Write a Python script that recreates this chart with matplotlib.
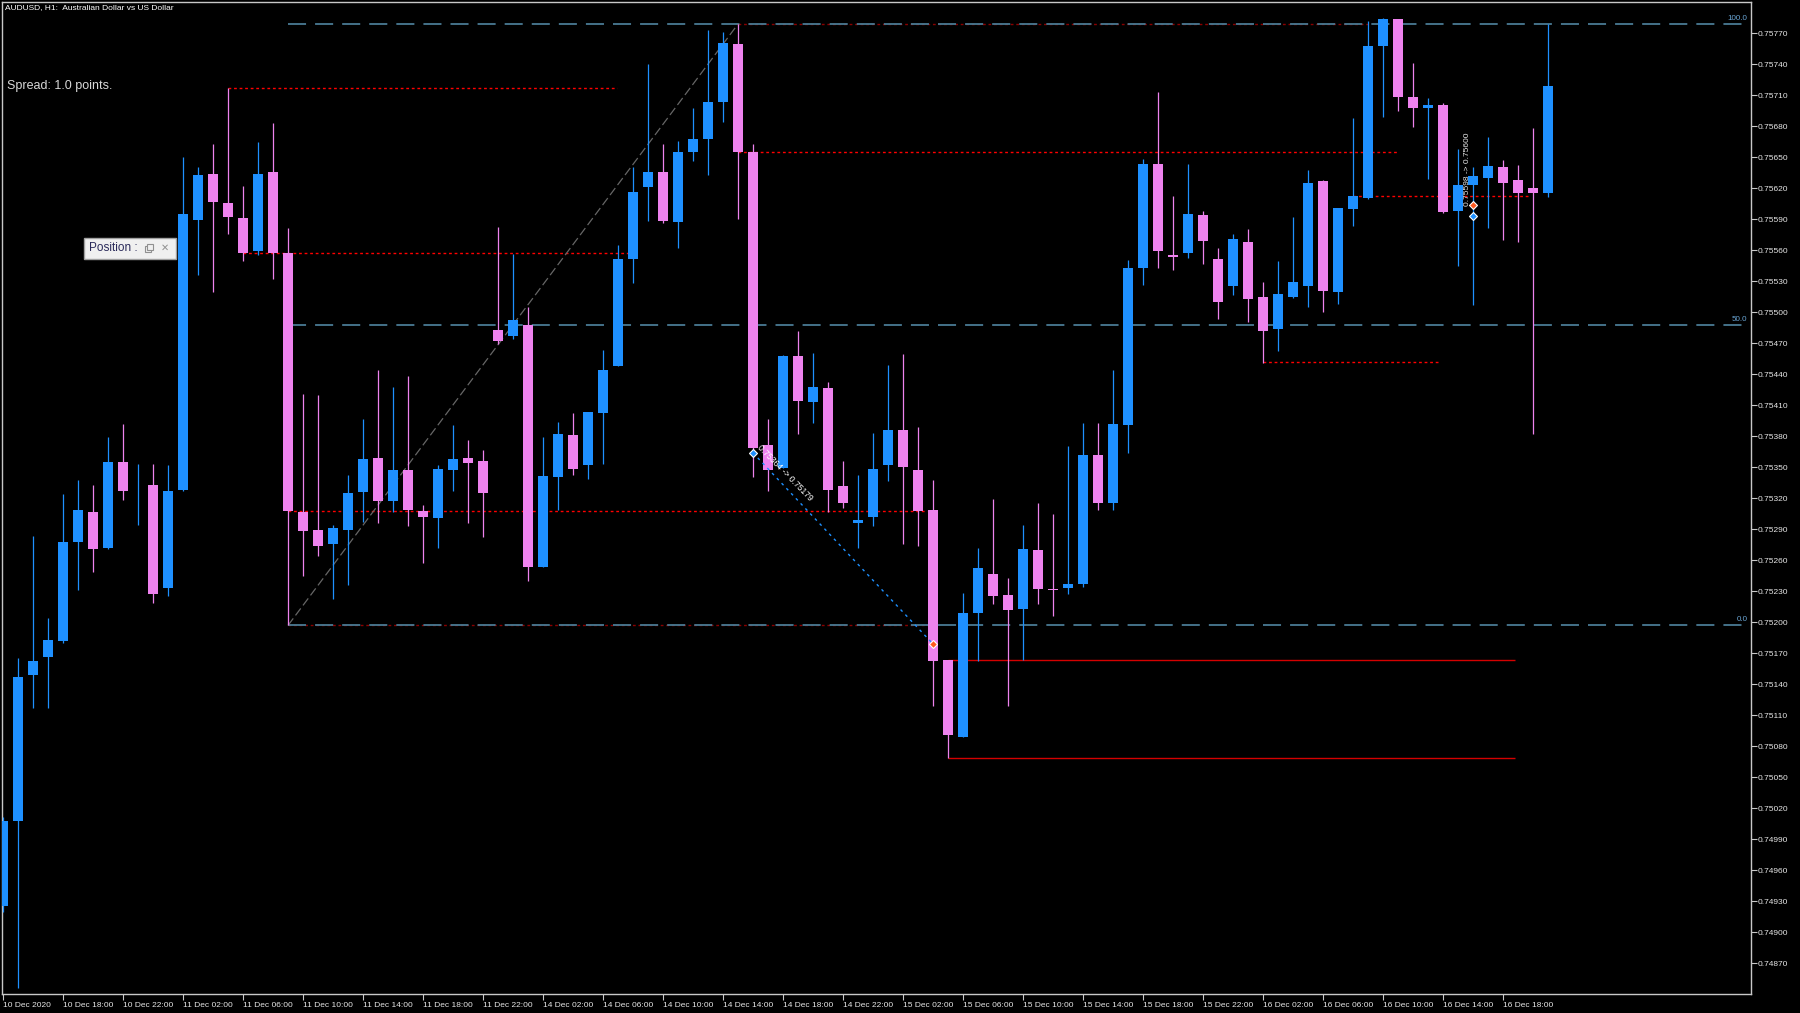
import matplotlib
matplotlib.use("Agg")
import matplotlib.pyplot as plt
from matplotlib.patches import Rectangle
import numpy as np

plt.rcParams["font.family"] = ["Liberation Sans", "DejaVu Sans"]

# AUDUSD H1 candles, one per hour starting 10 Dec 2020 14:00
opens = [0.74925, 0.75008, 0.75149, 0.75166, 0.75182, 0.75278, 0.75307, 0.75272, 0.75355, 0.75317,
         0.75333, 0.75233, 0.75328, 0.75589, 0.75634, 0.75606, 0.75591, 0.75559, 0.75636, 0.75557,
         0.75307, 0.75289, 0.75276, 0.75289, 0.75326, 0.75359, 0.75317, 0.75347, 0.75308, 0.75301,
         0.75347, 0.75359, 0.75356, 0.75483, 0.75477, 0.75488, 0.75254, 0.75341, 0.75381, 0.75352,
         0.75403, 0.75448, 0.75552, 0.75621, 0.75636, 0.75587, 0.75655, 0.75668, 0.75704, 0.75760,
         0.75655, 0.75372, 0.75349, 0.75458, 0.75413, 0.75427, 0.75332, 0.75296, 0.75302, 0.75352,
         0.75386, 0.75347, 0.75309, 0.75164, 0.75089, 0.75209, 0.75247, 0.75226, 0.75213, 0.75270,
         0.75232, 0.75233, 0.75237, 0.75362, 0.75315, 0.75391, 0.75543, 0.75644, 0.75555, 0.75557,
         0.75594, 0.75552, 0.75525, 0.75568, 0.75515, 0.75484, 0.75515, 0.75525, 0.75627, 0.75520,
         0.75600, 0.75611, 0.75758, 0.75784, 0.75708, 0.75698, 0.75701, 0.75598, 0.75623, 0.75630,
         0.75641, 0.75628, 0.75620, 0.75615]
highs = [0.75012, 0.75165, 0.75284, 0.75204, 0.75324, 0.75338, 0.75333, 0.75379, 0.75392, 0.75353,
         0.75353, 0.75352, 0.75650, 0.75641, 0.75663, 0.75717, 0.75622, 0.75665, 0.75683, 0.75582,
         0.75421, 0.75420, 0.75294, 0.75343, 0.75397, 0.75444, 0.75428, 0.75438, 0.75314, 0.75352,
         0.75391, 0.75376, 0.75367, 0.75583, 0.75556, 0.75505, 0.75379, 0.75394, 0.75403, 0.75404,
         0.75464, 0.75565, 0.75641, 0.75740, 0.75663, 0.75666, 0.75698, 0.75773, 0.75771, 0.75779,
         0.75663, 0.75397, 0.75459, 0.75482, 0.75461, 0.75433, 0.75356, 0.75343, 0.75383, 0.75449,
         0.75460, 0.75389, 0.75338, 0.75164, 0.75228, 0.75272, 0.75319, 0.75243, 0.75294, 0.75315,
         0.75305, 0.75371, 0.75393, 0.75393, 0.75444, 0.75551, 0.75648, 0.75713, 0.75613, 0.75644,
         0.75598, 0.75562, 0.75576, 0.75581, 0.75529, 0.75550, 0.75592, 0.75638, 0.75628, 0.75601,
         0.75688, 0.75782, 0.75785, 0.75784, 0.75741, 0.75707, 0.75703, 0.75658, 0.75641, 0.75670,
         0.75647, 0.75643, 0.75678, 0.75779]
lows = [0.74920, 0.74846, 0.75117, 0.75117, 0.75180, 0.75231, 0.75249, 0.75271, 0.75318, 0.75294,
        0.75219, 0.75225, 0.75327, 0.75536, 0.75520, 0.75576, 0.75550, 0.75555, 0.75532, 0.75197,
        0.75245, 0.75264, 0.75223, 0.75236, 0.75297, 0.75296, 0.75307, 0.75293, 0.75257, 0.75272,
        0.75327, 0.75296, 0.75283, 0.75469, 0.75474, 0.75240, 0.75254, 0.75309, 0.75343, 0.75339,
        0.75353, 0.75448, 0.75528, 0.75588, 0.75586, 0.75562, 0.75646, 0.75633, 0.75684, 0.75590,
        0.75341, 0.75327, 0.75349, 0.75382, 0.75393, 0.75307, 0.75311, 0.75272, 0.75293, 0.75337,
        0.75276, 0.75274, 0.75119, 0.75069, 0.75089, 0.75163, 0.75218, 0.75119, 0.75164, 0.75218,
        0.75206, 0.75227, 0.75234, 0.75309, 0.75309, 0.75364, 0.75526, 0.75543, 0.75541, 0.75553,
        0.75547, 0.75494, 0.75517, 0.75491, 0.75451, 0.75463, 0.75514, 0.75505, 0.75500, 0.75508,
        0.75584, 0.75610, 0.75689, 0.75695, 0.75679, 0.75629, 0.75596, 0.75545, 0.75507, 0.75582,
        0.75570, 0.75568, 0.75382, 0.75612]
closes = [0.75008, 0.75147, 0.75163, 0.75183, 0.75278, 0.75309, 0.75271, 0.75355, 0.75327, 0.75317,
          0.75227, 0.75327, 0.75595, 0.75633, 0.75607, 0.75592, 0.75557, 0.75634, 0.75557, 0.75308,
          0.75288, 0.75274, 0.75291, 0.75325, 0.75358, 0.75317, 0.75347, 0.75309, 0.75302, 0.75348,
          0.75358, 0.75354, 0.75325, 0.75472, 0.75493, 0.75254, 0.75342, 0.75382, 0.75348, 0.75404,
          0.75444, 0.75552, 0.75616, 0.75636, 0.75588, 0.75655, 0.75668, 0.75704, 0.75761, 0.75655,
          0.75369, 0.75347, 0.75458, 0.75414, 0.75428, 0.75328, 0.75315, 0.75299, 0.75348, 0.75386,
          0.75350, 0.75308, 0.75163, 0.75091, 0.75209, 0.75253, 0.75225, 0.75212, 0.75271, 0.75232,
          0.75231, 0.75237, 0.75362, 0.75315, 0.75392, 0.75543, 0.75644, 0.75559, 0.75554, 0.75595,
          0.75569, 0.75510, 0.75571, 0.75513, 0.75482, 0.75518, 0.75529, 0.75625, 0.75521, 0.75601,
          0.75613, 0.75758, 0.75784, 0.75708, 0.75698, 0.75701, 0.75597, 0.75623, 0.75632, 0.75642,
          0.75625, 0.75615, 0.75615, 0.75719]

time_labels = ["10 Dec 2020", "10 Dec 18:00", "10 Dec 22:00", "11 Dec 02:00", "11 Dec 06:00",
               "11 Dec 10:00", "11 Dec 14:00", "11 Dec 18:00", "11 Dec 22:00", "14 Dec 02:00",
               "14 Dec 06:00", "14 Dec 10:00", "14 Dec 14:00", "14 Dec 18:00", "14 Dec 22:00",
               "15 Dec 02:00", "15 Dec 06:00", "15 Dec 10:00", "15 Dec 14:00", "15 Dec 18:00",
               "15 Dec 22:00", "16 Dec 02:00", "16 Dec 06:00", "16 Dec 10:00", "16 Dec 14:00",
               "16 Dec 18:00"]
price_ticks = [0.74870, 0.74900, 0.74930, 0.74960, 0.74990, 0.75020, 0.75050, 0.75080, 0.75110,
               0.75140, 0.75170, 0.75200, 0.75230, 0.75260, 0.75290, 0.75320, 0.75350, 0.75380,
               0.75410, 0.75440, 0.75470, 0.75500, 0.75530, 0.75560, 0.75590, 0.75620, 0.75650,
               0.75680, 0.75710, 0.75740, 0.75770]

# fibonacci retracement between bar 19 low and bar 49 high
fib_low = 0.75197
fib_high = 0.75779
fib_levels = [0.0, 50.0, 100.0]

# red dotted support / resistance lines
sr_prices = [0.75717, 0.75557, 0.75308, 0.75655, 0.75613, 0.75452]
sr_start = [15, 16, 19, 49, 90, 84]
sr_end = [40.9, 41.9, 61.6, 93, 101.8, 95.8]
# the ones hidden under the fib lines
hidden_prices = [0.75779, 0.75197]
hidden_start = [49, 19]
hidden_end = [91, 62]

# solid red lines
lvl_prices = [0.75164, 0.75069]

# trades
trade_open = 0.75364
trade_close = 0.75179
trade2_open = 0.75598
trade2_close = 0.75600

UP = "#1E90FF"
DOWN = "#EE82EE"

fig = plt.figure(figsize=(18, 10.13), dpi=100, facecolor="black")
ax = fig.add_axes([2 / 1800, 19 / 1013, 1749 / 1800, 992 / 1013])
ax.set_facecolor("black")

x = np.arange(len(opens))
o = np.array(opens)
c = np.array(closes)
col = np.where(c >= o, UP, DOWN)

ax.vlines(x, lows, highs, colors=col, lw=0.9, zorder=3)
body = np.maximum(np.abs(c - o), 0.000008)
ax.bar(x, body, bottom=np.minimum(o, c), width=0.67, color=col, lw=0, zorder=4)

# fib levels
for lv in fib_levels:
    p = fib_low + (fib_high - fib_low) * lv / 100
    ax.hlines(p, 19, 116.2, colors="#4a7a94", lw=1.3, linestyles=(0, (10, 5)), zorder=2)
    ax.text(116.3, p + 0.00002, f"{lv:.1f}", ha="right", va="bottom", fontsize=5.8,
            color="#6aa6d6", zorder=6)
ax.plot([19, 49], [fib_low, fib_high], color="#666666", lw=0.9, ls=(0, (7, 3)), zorder=2)

for p, s, e in zip(sr_prices, sr_start, sr_end):
    ax.hlines(p, s, e, colors="#ff0000", lw=1, linestyles=(0, (2, 2)), zorder=1)
for p, s, e in zip(hidden_prices, hidden_start, hidden_end):
    ax.hlines(p, s, e, colors="#8b0000", lw=1, linestyles=(0, (2, 2)), zorder=1)

for p in lvl_prices:
    ax.hlines(p, 63, 100.8, colors="#d40000", lw=1, zorder=2)

# closed trade markers
ax.plot([50, 62], [trade_open, trade_close], color=UP, lw=1, ls=(0, (2, 3)), zorder=5)
ax.plot(50, trade_open, marker="D", ms=4.5, mfc=UP, mec="white", mew=0.8, zorder=7)
ax.plot(62, trade_close, marker="D", ms=4.5, mfc="#ff5a1f", mec="white", mew=0.8, zorder=7)
ax.text(50.2, trade_open + 0.00003, f"{trade_open:.5f} -> {trade_close:.5f}", rotation=-45.5,
        rotation_mode="anchor", ha="left", va="bottom", fontsize=6.2, color="white", zorder=8)
ax.plot(98, 0.75604, marker="D", ms=4.5, mfc="#ff5a1f", mec="white", mew=0.8, zorder=7)
ax.plot(98, 0.75593, marker="D", ms=4.5, mfc=UP, mec="white", mew=0.8, zorder=7)
ax.text(97.65, 0.75638, f"{trade2_open:.5f} -> {trade2_close:.5f}", rotation=90,
        ha="center", va="center", fontsize=6, color="#e8e8e8", zorder=8)

ax.set_xlim(-0.067, 116.53)
ax.set_ylim(0.748403, 0.758003)

ax.yaxis.tick_right()
ax.set_yticks(price_ticks)
ax.set_yticklabels([f"{p:.5f}" for p in price_ticks])
ax.set_xticks(range(0, 4 * len(time_labels), 4))
ax.set_xticklabels(time_labels, ha="left")
ax.tick_params(axis="y", direction="out", length=4, width=0.8, colors="#c8c8c8",
               labelcolor="#e6e6e6", labelsize=6, pad=1)
ax.tick_params(axis="x", direction="out", length=4, width=0.8, colors="#c8c8c8",
               labelcolor="#e6e6e6", labelsize=6, pad=1.5)
for sp in ax.spines.values():
    sp.set_color("#c8c8c8")
    sp.set_linewidth(1)

fig.text(5 / 1800, 1 - 8 / 1013, "AUDUSD, H1:  Australian Dollar vs US Dollar",
         va="center", ha="left", fontsize=6, color="white")
fig.text(7 / 1800, 1 - 86 / 1013, "Spread: 1.0 points.", va="center", ha="left",
         fontsize=9, color="#d8d8d8")

# "Position" panel
fig.add_artist(Rectangle((84 / 1800, 1 - 259 / 1013), 92 / 1800, 21 / 1013,
                         transform=fig.transFigure, facecolor="#f0f0f0",
                         edgecolor="#a0a0a0", lw=1))
fig.text(89 / 1800, 1 - 248 / 1013, "Position :", va="center", ha="left",
         fontsize=8.5, color="#2a2a5a")
fig.add_artist(Rectangle((145 / 1800, 1 - 252 / 1013), 6 / 1800, 6 / 1013,
                         transform=fig.transFigure, facecolor="none", edgecolor="#909090", lw=0.8))
fig.add_artist(Rectangle((147 / 1800, 1 - 250 / 1013), 6 / 1800, 6 / 1013,
                         transform=fig.transFigure, facecolor="#f0f0f0", edgecolor="#909090", lw=0.8))
fig.text(165 / 1800, 1 - 248 / 1013, "\u2715", va="center", ha="center",
         fontsize=7, color="#909090", family="DejaVu Sans")

fig.savefig("out.png", dpi=100, facecolor="black")
